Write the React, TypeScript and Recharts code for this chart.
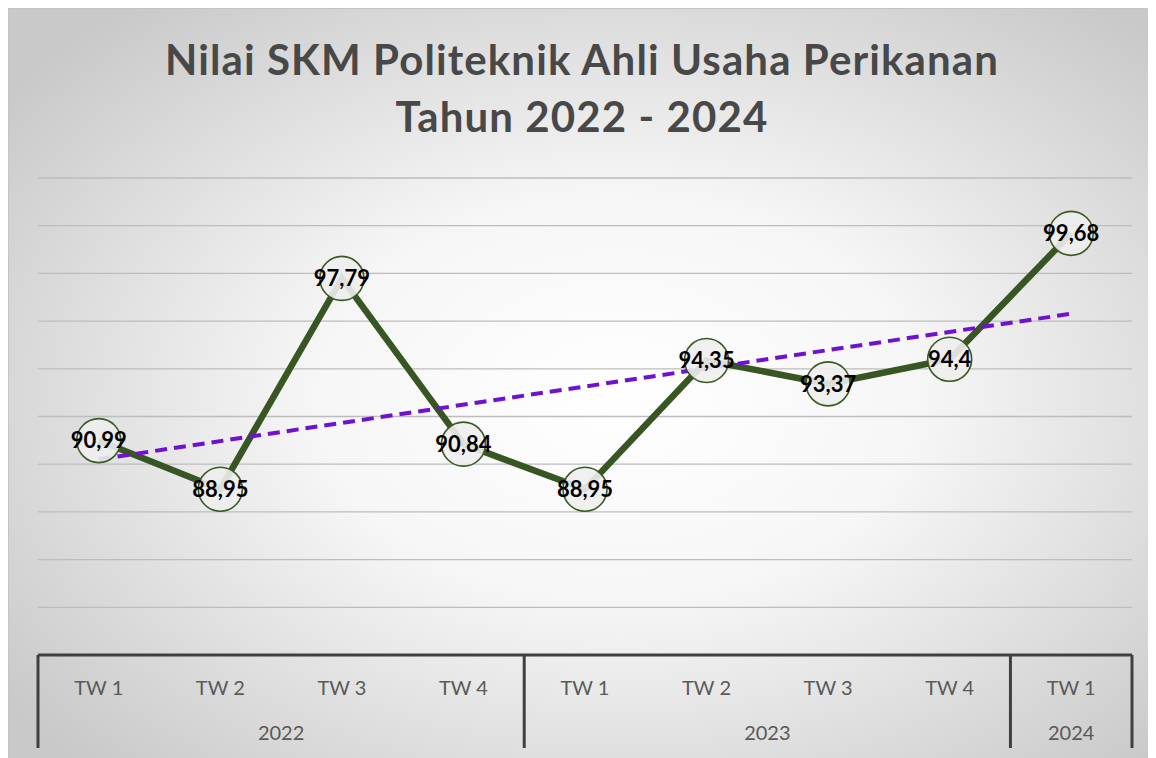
import React from "react";
import {
  LineChart,
  Line,
  XAxis,
  YAxis,
  CartesianGrid,
  ReferenceLine,
  LabelList
} from "recharts";

const quarters = ["TW 1", "TW 2", "TW 3", "TW 4", "TW 1", "TW 2", "TW 3", "TW 4", "TW 1"];
const years = ["2022", "2022", "2022", "2022", "2023", "2023", "2023", "2023", "2024"];
const skm = [90.99, 88.95, 97.79, 90.84, 88.95, 94.35, 93.37, 94.4, 99.68];
const yTicks = [82, 84, 86, 88, 90, 92, 94, 96, 98, 100, 102];

const chartData = skm.map((v, i) => ({ id: i, quarter: quarters[i], year: years[i], skm: v }));

// linear trendline (least squares) like the excel one
const n = skm.length;
const meanX = (n - 1) / 2;
const meanY = skm.reduce((s, v) => s + v, 0) / n;
let sxy = 0;
let sxx = 0;
skm.forEach((v, i) => {
  sxy += (i - meanX) * (v - meanY);
  sxx += (i - meanX) * (i - meanX);
});
const slope = sxy / sxx;
const trendStart = meanY - slope * meanX;
const trendEnd = meanY + slope * (n - 1 - meanX);

const W = 1148;
const H = 751;
const AXIS_H = 104;
const M = { top: 170, right: 24, left: 30, bottom: 0 };
const PLOT_W = W - M.left - M.right;
const BAND = PLOT_W / n;
const AXIS_Y = H - AXIS_H;
const FONT = "Lato, 'Open Sans', sans-serif";

const fmt = (v: any) => String(v).replace(".", ",");

const Marker = (props: any) => {
  const { cx, cy } = props;
  return (
    <circle cx={cx} cy={cy} r={22} fill="#eeeeee" fillOpacity={0.9} stroke="#3a5a22" strokeWidth={1.6} />
  );
};

const AxisTick = (props: any) => {
  const { x, payload } = props;
  const i = payload.index;
  const first = i === 0 || years[i] !== years[i - 1];
  let groupSize = 0;
  if (first) {
    let j = i;
    while (j < n && years[j] === years[i]) j++;
    groupSize = j - i;
  }
  return (
    <g>
      <text
        x={x}
        y={AXIS_Y + 32}
        textAnchor="middle"
        dominantBaseline="central"
        fill="#595959"
        fontSize={20}
        fontFamily={FONT}
      >
        {quarters[i]}
      </text>
      {first && (
        <>
          <line x1={x - BAND / 2} x2={x - BAND / 2} y1={AXIS_Y} y2={AXIS_Y + 93} stroke="#404040" strokeWidth={3} />
          <text
            x={x + ((groupSize - 1) * BAND) / 2}
            y={AXIS_Y + 77}
            textAnchor="middle"
            dominantBaseline="central"
            fill="#595959"
            fontSize={20}
            fontFamily={FONT}
          >
            {years[i]}
          </text>
        </>
      )}
      {i === n - 1 && (
        <line x1={x + BAND / 2} x2={x + BAND / 2} y1={AXIS_Y} y2={AXIS_Y + 93} stroke="#404040" strokeWidth={3} />
      )}
    </g>
  );
};

const App: React.FC = () => {
  return (
    <div
      style={{
        position: "relative",
        width: W,
        height: H,
        boxSizing: "border-box",
        border: "1px solid #c4c4c4",
        background: "radial-gradient(ellipse 66% 68% at 53% 52%, #ffffff 0%, #f6f6f6 40%, #c9c9c9 100%)"
      }}
    >
      <div
        style={{
          position: "absolute",
          left: 0,
          top: 22,
          width: "100%",
          textAlign: "center",
          fontFamily: FONT,
          fontWeight: 700,
          fontSize: 42,
          letterSpacing: 1.1,
          lineHeight: "57px",
          color: "#484848"
        }}
      >
        Nilai SKM Politeknik Ahli Usaha Perikanan
        <br />
        Tahun 2022 - 2024
      </div>
      <div style={{ position: "absolute", left: -1, top: -1 }}>
        <LineChart width={W} height={H} data={chartData} margin={M}>
          <CartesianGrid vertical={false} stroke="#bdbdbd" strokeWidth={1.3} />
          <XAxis
            dataKey="id"
            interval={0}
            tickLine={false}
            axisLine={{ stroke: "#404040", strokeWidth: 3 }}
            height={AXIS_H}
            padding={{ left: BAND / 2, right: BAND / 2 }}
            tick={<AxisTick />}
          />
          <YAxis hide domain={[82, 102]} ticks={yTicks} />
          <Line
            type="linear"
            dataKey="skm"
            stroke="#375623"
            strokeWidth={6.5}
            dot={<Marker />}
            activeDot={false}
            isAnimationActive={false}
          >
            <LabelList
              dataKey="skm"
              position="center"
              formatter={fmt}
              fill="#000000"
              fontSize={22}
              fontWeight={700}
              fontFamily={FONT}
            />
          </Line>
          <ReferenceLine
            segment={[
              { x: 0, y: trendStart },
              { x: n - 1, y: trendEnd }
            ]}
            stroke="#7010d0"
            strokeWidth={4}
            strokeDasharray="12 7"
          />
        </LineChart>
      </div>
    </div>
  );
};

export default App;
